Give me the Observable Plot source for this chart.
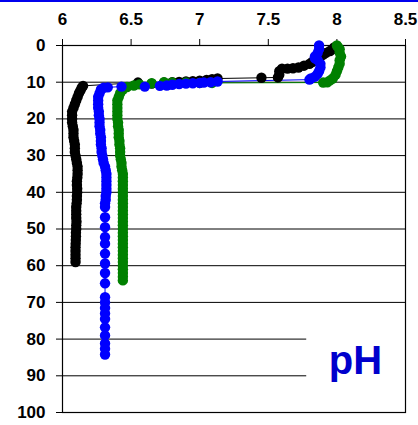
<!DOCTYPE html>
<html>
<head>
<meta charset="utf-8">
<script src="https://cdn.jsdelivr.net/npm/d3@7"></script>
<script src="https://cdn.jsdelivr.net/npm/@observablehq/plot@0.6"></script>
<style>
  html, body { margin: 0; padding: 0; background: #fff; }
  #wrap { position: relative; width: 418px; height: 425px; }
  #topline { position: absolute; left: 0; top: 0; width: 418px; height: 2px; background: #0000ee; }
  svg { font-family: "Liberation Sans", Arial, sans-serif; }
</style>
</head>
<body>
<div id="wrap"><div id="topline"></div></div>
<script>
// pH profiles: [depth, pH]
const blackSeries = [
  [0.5,7.98],[1,7.97],[1.5,7.95],[2,7.92],[2.5,7.9],[3,7.88],[3.5,7.86],[4,7.84],[4.5,7.82],[5,7.8],
  [5.5,7.76],[6,7.72],[6.2,7.68],[6.3,7.64],[6.3,7.6],[7,7.58],[8,7.58],[8.7,7.57],[8.8,7.45],
  [9,7.13],[9.2,7.09],[9.4,7.05],[9.6,7.0],[9.7,6.95],[9.8,6.9],[9.9,6.85],[10,6.8],[10.1,6.74],
  [10.4,6.65],[10.1,6.55],[11,6.15],[11.5,6.14],[12.3,6.13],[13,6.12],[14,6.11],[15,6.1],[16,6.09],
  [17,6.08],[18,6.07],[19,6.07],[20,6.07],[21,6.07],[22,6.075],[23,6.08],[24,6.08],[25,6.08],
  [26,6.085],[27,6.09],[28,6.09],[29,6.09],[30,6.095],[31,6.1],[32,6.105],[33,6.11],[34,6.11],
  [35,6.11],[36,6.108],[37,6.105],[38,6.105],[39,6.107],[40,6.107],[41,6.105],[42,6.105],[43,6.103],
  [44,6.1],[45,6.1],[46,6.1],[47,6.1],[48,6.102],[49,6.1],[50,6.1],[51,6.098],[52,6.098],[53,6.097],
  [54,6.096],[55,6.095],[56,6.095],[57,6.095],[58,6.095],[59,6.095]
];
const greenSeries = [
  [0,8.0],[0.5,8.01],[1,8.02],[2,8.02],[3,8.03],[4,8.02],[5,8.02],[6,8.01],[7,8.0],[8,7.99],
  [9,7.97],[9.5,7.95],[10,7.93],[10.1,7.9],[10.2,7.09],[10.2,7.0],[10.1,6.9],[10.1,6.8],[10,6.74],
  [10.3,6.65],[10.6,6.56],[10.9,6.52],[11.3,6.47],[12,6.44],[13,6.42],[14,6.41],[15,6.4],[16,6.4],
  [17,6.4],[18,6.4],[19,6.4],[20,6.4],[21,6.405],[22,6.405],[23,6.41],[24,6.41],[25,6.41],[26,6.415],
  [27,6.415],[28,6.42],[29,6.42],[30,6.42],[31,6.425],[32,6.43],[33,6.43],[34,6.435],[35,6.44],
  [36,6.44],[37,6.44],[38,6.44],[39,6.44],[40,6.44],[41,6.44],[42,6.44],[43,6.44],[44,6.44],[45,6.44],
  [46,6.44],[47,6.44],[48,6.44],[49,6.44],[50,6.44],[51,6.44],[52,6.44],[53,6.44],[54,6.44],[55,6.44],
  [56,6.44],[57,6.44],[58,6.44],[59,6.44],[60,6.44],[61,6.44],[62,6.44],[63,6.44],[64,6.44]
];
const blueSeries = [
  [0,7.87],[1,7.87],[2,7.86],[3,7.84],[3.5,7.84],[4,7.86],[5,7.88],[6,7.88],[7,7.87],[7.7,7.86],
  [8.5,7.84],[9,7.81],[9.3,7.8],[9.8,7.13],[10,7.08],[10.1,7.03],[10.2,7.0],[10.3,6.95],[10.4,6.9],
  [10.5,6.85],[10.7,6.8],[10.9,6.76],[11,6.71],[11.2,6.6],[11.2,6.43],[11.4,6.33],[11.5,6.3],[12,6.28],
  [13,6.27],[14,6.26],[15,6.26],[16,6.26],[17,6.26],[18,6.265],[19,6.265],[20,6.27],[21,6.27],
  [22,6.27],[23,6.275],[24,6.275],[25,6.28],[26,6.28],[27,6.28],[28,6.285],[29,6.285],[30,6.29],
  [31,6.295],[32,6.3],[33,6.31],[34,6.315],[35,6.32],[36,6.32],[37,6.32],[38,6.32],[39,6.32],
  [40,6.32],[41,6.315],[42,6.315],[43,6.31],[44,6.31],[46.8,6.31],[49.5,6.31],[52.2,6.31],[54,6.31],
  [56.7,6.31],[59.4,6.31],[62,6.31],[64.8,6.31],[68.6,6.31],[70,6.31],[71.5,6.31],[73,6.31],
  [74.5,6.31],[76.8,6.31],[79,6.31],[81.2,6.31],[82.6,6.31],[84.2,6.31]
];
const xTicks = [6, 6.5, 7, 7.5, 8, 8.5];
const yTicks = [0, 10, 20, 30, 40, 50, 60, 70, 80, 90, 100];
const gridValues = [10, 20, 30, 40, 50, 60, 70, 80, 90];
const labelText = "pH";

const series = [
  {name: "black", color: "#000000", data: blackSeries},
  {name: "green", color: "#008000", data: greenSeries},
  {name: "blue", color: "#0000ff", data: blueSeries}
];
const labelBox = [{x1: 7.78, x2: 8.5, y1: 75.5, y2: 97}];

const chart = Plot.plot({
  width: 418,
  height: 425,
  marginTop: 45,
  marginLeft: 62,
  marginRight: 13,
  marginBottom: 13,
  style: {fontFamily: "'Liberation Sans', Arial, sans-serif", fontSize: "17px", fontWeight: "bold", color: "#000", background: "transparent"},
  x: {domain: [6, 8.5], axis: null},
  y: {domain: [0, 100], reverse: true, axis: null},
  marks: [
    Plot.ruleY(gridValues, {stroke: "#000", strokeWidth: 1}),
    Plot.rect(labelBox, {x1: "x1", x2: "x2", y1: "y1", y2: "y2", fill: "white"}),
    Plot.axisX({anchor: "top", ticks: xTicks, tickSize: 7, tickPadding: 14, tickFormat: d => String(d), fontSize: 17, fontWeight: "bold", label: null, stroke: "#000"}),
    Plot.axisY({anchor: "left", ticks: yTicks, tickSize: 6, tickPadding: 11, tickFormat: d => String(d), fontSize: 17, fontWeight: "bold", label: null, stroke: "#000"}),
    Plot.frame({stroke: "#000", strokeWidth: 1.2}),
    ...series.map(s => Plot.line(s.data, {x: d => d[1], y: d => d[0], stroke: s.color, strokeWidth: 1})),
    ...series.map(s => Plot.dot(s.data, {x: d => d[1], y: d => d[0], fill: s.color, r: 5.2, stroke: "none"})),
    Plot.text([labelText], {x: 8.135, y: 85.9, text: d => d, fill: "#0000cc", fontSize: 40, fontWeight: "bold", textAnchor: "middle", lineAnchor: "middle"})
  ]
});
document.getElementById("wrap").appendChild(chart);
</script>
</body>
</html>
